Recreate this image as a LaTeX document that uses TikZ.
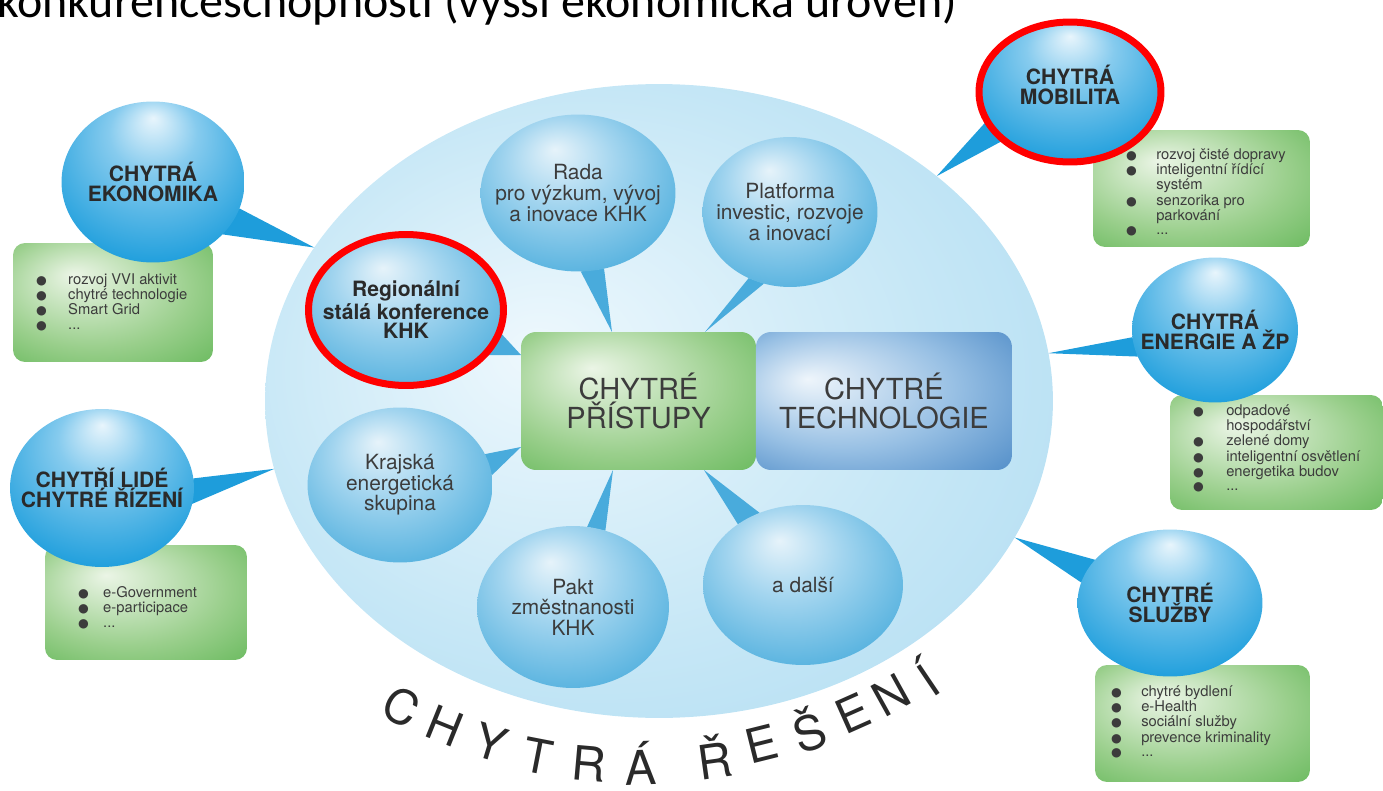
\documentclass[tikz,border=0pt]{standalone}
\usepackage{fontspec}
\setmainfont{TeX Gyre Heros}
\newfontfamily\headfont{Carlito}
\newfontfamily\dotfont{DejaVu Sans}
\usetikzlibrary{shapes.geometric,positioning}

\definecolor{txtdark}{HTML}{2A2A2A}
\definecolor{txtgray}{HTML}{3C3C3C}
\definecolor{ringred}{HTML}{FF0000}
\definecolor{bubhi}{HTML}{E8F5FC}
\definecolor{bubmid}{HTML}{86CBEE}
\definecolor{bubblue}{HTML}{22A0DD}
\definecolor{bubdeep}{HTML}{1592D2}
\definecolor{inhi}{HTML}{E6F3FA}
\definecolor{inmid}{HTML}{A3D5EF}
\definecolor{inblue}{HTML}{4DAEDD}
\definecolor{indeep}{HTML}{3DA3D7}
\definecolor{bighi}{HTML}{EEF8FD}
\definecolor{bigmid}{HTML}{C6E7F6}
\definecolor{bigedge}{HTML}{9DD3EE}
\definecolor{grhi}{HTML}{EBF5E6}
\definecolor{grmid}{HTML}{9ACF8C}
\definecolor{gredge}{HTML}{4AAC40}
\definecolor{tchi}{HTML}{EEF5FB}
\definecolor{tcmid}{HTML}{98C0E4}
\definecolor{tcdeep}{HTML}{2870B8}
\definecolor{ptrblue}{HTML}{1E9DDB}
\definecolor{inptrblue}{HTML}{49ABDC}

\pgfdeclareradialshading{bubshade}{\pgfpoint{0bp}{20bp}}{color(0bp)=(bubhi); color(12bp)=(bubmid); color(32bp)=(bubblue); color(50bp)=(bubdeep)}
\pgfdeclareradialshading{inshade}{\pgfpoint{-6bp}{14bp}}{color(0bp)=(inhi); color(14bp)=(inmid); color(34bp)=(inblue); color(50bp)=(indeep)}
\pgfdeclareradialshading{bigshade}{\pgfpoint{-8bp}{4bp}}{color(0bp)=(bighi); color(22bp)=(bigmid); color(50bp)=(bigedge)}
\pgfdeclareradialshading{grshade}{\pgfpoint{-10bp}{12bp}}{color(0bp)=(grhi); color(25bp)=(grmid); color(50bp)=(gredge)}
\pgfdeclareradialshading{tcshade}{\pgfpoint{-15bp}{8bp}}{color(0bp)=(tchi); color(22bp)=(tcmid); color(50bp)=(tcdeep)}

\pgfdeclarelayer{bg}
\pgfdeclarelayer{ptr}
\pgfsetlayers{bg,ptr,main}

\newcommand{\bul}{{\dotfont\fontsize{7}{8}\selectfont ●}}

\begin{document}
\begin{tikzpicture}[x=0.02cm,y=-0.02cm,every node/.style={outer sep=0pt},
 bubble/.style={ellipse,shading=bubshade,inner sep=-25pt,align=center,text=txtdark,
 font=\fontsize{12}{11.5}\selectfont\bfseries},
 inbubble/.style={ellipse,shading=inshade,inner sep=-25pt,align=center,text=txtgray,
 font=\fontsize{11.9}{11.7}\selectfont},
 ringed/.style={draw=ringred,line width=0.14cm},
 listbox/.style={rectangle,rounded corners=0.24cm,shading=grshade,inner sep=0pt},
 bullets/.style={anchor=west,inner sep=0pt,align=left,text=txtgray,
 font=\fontsize{8.4}{8.3}\selectfont},
 centerbox/.style={rectangle,rounded corners=0.3cm,inner sep=0pt,align=center,
 text=txtgray,minimum height=2.76cm,font=\fontsize{16.5}{17}\selectfont},
 pointer/.style={fill=ptrblue},
 inpointer/.style={fill=inptrblue},
 arcletter/.style={inner sep=0pt,text=txtdark,font=\fontsize{27}{27}\selectfont}]
\useasboundingbox (0,0) rectangle (1383,791);

\node[anchor=base west,inner sep=0pt,font=\headfont\fontsize{27.3}{30}\selectfont] (title) at (-3,17)
 {konkurenceschopnosti (vyšší ekonomická úroveň)};

\begin{pgfonlayer}{bg}
\node[ellipse,shading=bigshade,minimum width=15.76cm,minimum height=12.68cm] (big) at (659,401) {};
\end{pgfonlayer}

% center
\node[centerbox,shading=grshade,minimum width=4.7cm] (pristupy) at (638.5,401) {CHYTRÉ\\PŘÍSTUPY};
\node[centerbox,shading=tcshade,minimum width=5.12cm,right=0cm of pristupy] (tech) {CHYTRÉ\\TECHNOLOGIE};

% green boxes
\node[listbox,minimum width=4cm,minimum height=2.38cm] (ekobox) at (113,302.5) {};
\node[listbox,minimum width=4.04cm,minimum height=2.3cm] (lidebox) at (146,602.5) {};
\node[listbox,minimum width=4.34cm,minimum height=2.34cm] (mobbox) at (1201.5,188.5) {};
\node[listbox,minimum width=4.26cm,minimum height=2.3cm] (enebox) at (1276.5,452.5) {};
\node[listbox,minimum width=4.3cm,minimum height=2.34cm] (slubox) at (1202.5,723.5) {};

\node[bullets] (ekolist) at ([xshift=0.46cm,yshift=-0.02cm]ekobox.west)
 {\begin{tabular}{@{}l@{\hspace{0.43cm}}l@{}}
 \bul & rozvoj VVI aktivit\\ \bul & chytré technologie\\ \bul & Smart Grid\\ \bul & ...
 \end{tabular}};
\node[bullets] (lidelist) at ([xshift=0.66cm,yshift=-0.13cm]lidebox.west)
 {\begin{tabular}{@{}l@{\hspace{0.29cm}}l@{}}
 \bul & e-Government\\ \bul & e-participace\\ \bul & ...
 \end{tabular}};
\node[bullets] (moblist) at ([xshift=0.66cm,yshift=-0.11cm]mobbox.west)
 {\begin{tabular}{@{}l@{\hspace{0.39cm}}l@{}}
 \bul & rozvoj čisté dopravy\\ \bul & inteligentní řídící\\ & systém\\
 \bul & senzorika pro\\ & parkování\\ \bul & ...
 \end{tabular}};
\node[bullets] (enelist) at ([xshift=0.46cm,yshift=0.05cm]enebox.west)
 {\begin{tabular}{@{}l@{\hspace{0.45cm}}l@{}}
 \bul & odpadové\\ & hospodářství\\ \bul & zelené domy\\
 \bul & inteligentní osvětlení\\ \bul & energetika budov\\ \bul & ...
 \end{tabular}};
\node[bullets] (slulist) at ([xshift=0.32cm]slubox.west)
 {\begin{tabular}{@{}l@{\hspace{0.39cm}}l@{}}
 \bul & chytré bydlení\\ \bul & e-Health\\ \bul & sociální služby\\
 \bul & prevence kriminality\\ \bul & ...
 \end{tabular}};

% outer bubbles
\node[bubble,minimum width=3.66cm,minimum height=3.22cm] (eko) at (153,182) {CHYTRÁ\\EKONOMIKA};
\node[bubble,minimum width=3.68cm,minimum height=3.16cm] (lide) at (102,488) {CHYTŘÍ LIDÉ\\CHYTRÉ ŘÍZENÍ};
\node[bubble,ringed,text depth=0.3cm,minimum width=3.64cm,minimum height=2.8cm] (mobilita) at (1070,92) {CHYTRÁ\\MOBILITA};
\node[bubble,minimum width=3.32cm,minimum height=2.9cm] (energie) at (1215,330) {CHYTRÁ\\ENERGIE A ŽP};
\node[bubble,minimum width=3.7cm,minimum height=2.94cm] (sluzby) at (1170,603) {CHYTRÉ\\SLUŽBY};

% inner bubbles
\node[inbubble,minimum width=3.9cm,minimum height=3.14cm] (rada) at (578,193) {Rada\\pro výzkum, vývoj\\a inovace KHK};
\node[inbubble,minimum width=3.5cm,minimum height=3cm] (platforma) at (790,212) {Platforma\\investic, rozvoje\\a inovací};
\node[inbubble,ringed,text=txtdark,font=\fontsize{12}{11.3}\selectfont\bfseries,
 minimum width=3.9cm,minimum height=3.02cm] (regionalni) at (406,310) {Regionální\\stálá konference\\KHK};
\node[inbubble,minimum width=3.7cm,minimum height=3.1cm] (krajska) at (400,485) {Krajská\\energetická\\skupina};
\node[inbubble,minimum width=3.84cm,minimum height=3.24cm] (pakt) at (573,607) {Pakt\\změstnanosti\\KHK};
\node[inbubble,minimum width=4cm,minimum height=3.2cm] (dalsi) at (803,585) {a další};

\begin{pgfonlayer}{ptr}
\fill[pointer] (eko.-17) -- (eko.-37) -- (big.156) -- cycle;
\fill[pointer] (lide.-10) -- (lide.6) -- (big.190) -- cycle;
\fill[pointer] (mobilita.-161) -- (mobilita.-144) -- (big.39) -- cycle;
\fill[pointer] (energie.-175) -- (energie.-161) -- (big.7) -- cycle;
\fill[pointer] (sluzby.150) -- (sluzby.167) -- (big.-21) -- cycle;

\fill[inpointer] (rada.-88) -- (rada.-71) -- ([xshift=1.82cm]pristupy.north west) -- cycle;
\fill[inpointer] (platforma.-122) -- (platforma.-110) -- ([xshift=3.68cm]pristupy.north west) -- cycle;
\fill[inpointer] (regionalni.-13) -- (regionalni.-30) -- ([yshift=-0.46cm]pristupy.north west) -- cycle;
\fill[inpointer] (krajska.20) -- (krajska.6) -- ([yshift=-2.3cm]pristupy.north west) -- cycle;
\fill[inpointer] (pakt.80) -- (pakt.67) -- ([xshift=1.84cm]pristupy.south west) -- cycle;
\fill[inpointer] (dalsi.137) -- (dalsi.121) -- ([xshift=3.66cm]pristupy.south west) -- cycle;
\end{pgfonlayer}

% curved caption
\foreach \ch/\x/\y/\r [count=\i] in {C/402/707/-27,H/445/726/-22,Y/491/743/-17,T/538/756/-11,
 R/589/764/-5,Á/641/763/2,Ř/714/757/8,E/762/744/14,Š/809/729/19,E/853/713/24,N/891/695/29,Í/926/677/34}
 \node[arcletter,rotate=\r] (arc\i) at (\x,\y) {\ch};
\end{tikzpicture}
\end{document}
